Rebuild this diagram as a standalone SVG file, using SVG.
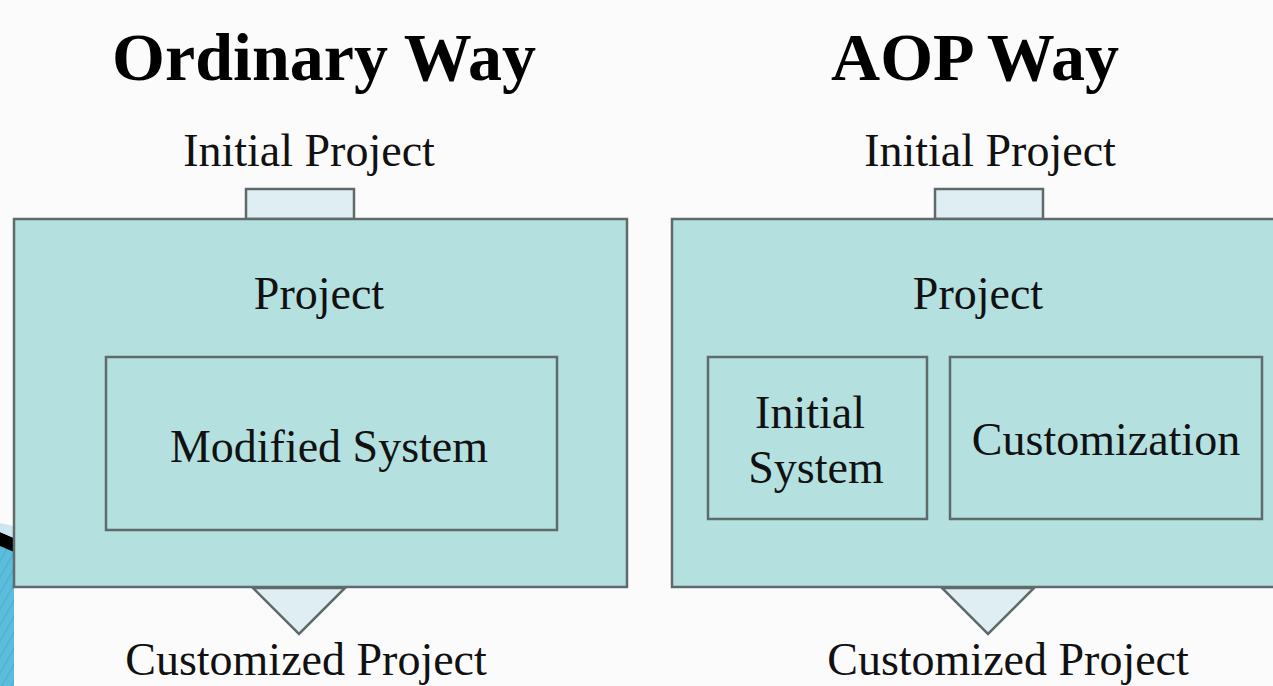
<svg xmlns="http://www.w3.org/2000/svg" width="1273" height="686" viewBox="0 0 1273 686">
  <style>
    .box { fill: #b4e0e0; stroke: #5f6b6b; stroke-width: 2.5; }
    .port { fill: #deeef3; stroke: #5f6b6b; stroke-width: 2.5; }
    .title { font-family: "Liberation Serif", serif; font-weight: bold; font-size: 68px; fill: #000; text-anchor: middle; }
    .lbl { font-family: "Liberation Serif", serif; font-size: 46px; fill: #111; text-anchor: middle; }
  </style>
  <defs>
    <pattern id="stripes" width="8" height="8" patternUnits="userSpaceOnUse" patternTransform="rotate(30)">
      <rect width="8" height="8" fill="#5bbcdc"/>
      <line x1="0" y1="0" x2="0" y2="8" stroke="#3d9dc0" stroke-width="1"/>
    </pattern>
  </defs>

  <rect width="1273" height="686" fill="#fcfbfc"/>

  <!-- slide corner ornament -->
  <g id="ornament">
    <path d="M0 545 L14 548 L14 686 L0 686 Z" fill="url(#stripes)"/>
    <path d="M0 532 L14 538 L14 552 L0 546 Z" fill="#000"/>
    <path d="M0 523 L14 526 L14 538 L0 532 Z" fill="#cde6ef"/>
  </g>

  <!-- titles -->
  <text class="title" x="324" y="80">Ordinary Way</text>
  <text class="title" x="975" y="80">AOP Way</text>

  <!-- ordinary way -->
  <g id="ordinary-input">
    <text class="lbl" x="309" y="166">Initial Project</text>
    <rect class="port" x="246" y="189" width="108" height="30"/>
  </g>
  <g id="ordinary-project">
    <rect class="box" x="14" y="219" width="613" height="368"/>
    <text class="lbl" x="319" y="309">Project</text>
  </g>
  <g id="modified-system">
    <rect class="box" x="106" y="357" width="451" height="173"/>
    <text class="lbl" x="329" y="462">Modified System</text>
  </g>
  <g id="ordinary-output">
    <path class="port" d="M253 588 L345 588 L299 634 Z"/>
    <text class="lbl" x="306" y="675">Customized Project</text>
  </g>

  <!-- aop way -->
  <g id="aop-input">
    <text class="lbl" x="990" y="166">Initial Project</text>
    <rect class="port" x="935" y="189" width="108" height="30"/>
  </g>
  <g id="aop-project">
    <rect class="box" x="672" y="219" width="603" height="368"/>
    <text class="lbl" x="978" y="309">Project</text>
  </g>
  <g id="initial-system">
    <rect class="box" x="708" y="357" width="219" height="162"/>
    <text class="lbl" x="810" y="428">Initial</text>
    <text class="lbl" x="816" y="483">System</text>
  </g>
  <g id="customization">
    <rect class="box" x="950" y="357" width="312" height="162"/>
    <text class="lbl" x="1106" y="455">Customization</text>
  </g>
  <g id="aop-output">
    <path class="port" d="M942 588 L1034 588 L988 634 Z"/>
    <text class="lbl" x="1008" y="675">Customized Project</text>
  </g>

  <g id="connectors"></g>
</svg>
